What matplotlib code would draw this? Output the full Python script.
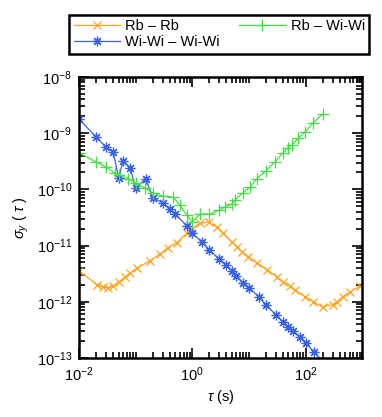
import numpy as np
import matplotlib
matplotlib.use('Agg')
import matplotlib.pyplot as plt
from matplotlib.ticker import LogLocator, NullFormatter

plt.rcParams['font.family'] = ['Liberation Sans', 'DejaVu Sans']
plt.rcParams['mathtext.fontset'] = 'custom'
plt.rcParams['mathtext.rm'] = 'Liberation Sans'
plt.rcParams['mathtext.it'] = 'Liberation Sans:italic'
plt.rcParams['font.size'] = 10.5

# Rb - Rb
tau_rr = [0.01, 0.021, 0.026, 0.033, 0.04, 0.051, 0.065, 0.08, 0.106, 0.18, 0.27, 0.37,
          0.53, 0.8, 1.0, 1.37, 2.0, 2.7, 3.5, 5.0, 6.2, 7.6, 9.7, 13.9, 21, 31, 40, 53,
          66, 98, 136, 200, 300, 360, 460, 600, 920]
adev_rr = [-11.45, -11.70, -11.74, -11.75, -11.72, -11.65, -11.56, -11.49, -11.40, -11.27,
           -11.15, -11.04, -10.95, -10.78, -10.70, -10.60, -10.58, -10.67, -10.78, -10.94,
           -11.02, -11.11, -11.20, -11.31, -11.43, -11.56, -11.65, -11.72, -11.79, -11.91,
           -12.00, -12.09, -12.05, -12.00, -11.91, -11.83, -11.72]

# Rb - Wi-Wi
tau_rw = [0.01, 0.02, 0.03, 0.043, 0.05, 0.074, 0.1, 0.147, 0.2, 0.3, 0.46, 0.6, 0.8, 1.0,
          1.37, 2.0, 3.0, 3.8, 5.0, 5.6, 7.9, 10.5, 13.9, 20, 29, 40, 49, 58, 74, 98, 136, 200]
adev_rw = [-9.35, -9.51, -9.60, -9.71, -9.74, -9.81, -9.89, -9.98, -10.06, -10.12, -10.14,
           -10.28, -10.46, -10.58, -10.44, -10.44, -10.37, -10.31, -10.26, -10.19, -10.06,
           -9.96, -9.81, -9.67, -9.51, -9.35, -9.26, -9.21, -9.09, -8.98, -8.82, -8.66]

# Wi-Wi - Wi-Wi
tau_ww = [0.01, 0.02, 0.03, 0.04, 0.05, 0.06, 0.08, 0.1, 0.15, 0.2, 0.3, 0.4, 0.5, 0.8, 1,
          1.5, 2, 3, 4, 5, 6, 8, 10, 15, 20, 30, 40, 50, 60, 80, 100, 140, 200]
adev_ww = [-8.75, -9.07, -9.25, -9.33, -9.80, -9.49, -9.62, -9.98, -9.81, -10.15, -10.24,
           -10.35, -10.44, -10.65, -10.78, -10.94, -11.08, -11.24, -11.35, -11.45, -11.54,
           -11.67, -11.75, -11.91, -12.06, -12.23, -12.36, -12.45, -12.52, -12.63, -12.73,
           -12.89, -13.05]

fig = plt.figure(figsize=(3.82, 4.17), dpi=100)
ax = fig.add_axes([0.207, 0.1415, 0.741, 0.674])

ax.loglog(tau_rr, 10.0 ** np.array(adev_rr), '-x', color='#FFA31A', lw=0.9, ms=6,
          mew=0.9, label='Rb – Rb')
ax.loglog(tau_ww, 10.0 ** np.array(adev_ww), '-', marker=(8, 2, 0), color='#3A62E8',
          lw=0.9, ms=7, mew=0.9, label='Wi-Wi – Wi-Wi')
ax.loglog(tau_rw, 10.0 ** np.array(adev_rw), '-+', color='#40E040', lw=0.9, ms=8,
          mew=0.9, label='Rb – Wi-Wi')

ax.set_xlim(1e-2, 1e3)
ax.set_ylim(1e-13, 1e-8)
ax.set_xticks([1e-2, 1e0, 1e2])
ax.set_xticks([1e-1, 1e1, 1e3] + [s * 10.0 ** e for e in range(-2, 3) for s in range(2, 10)],
              minor=True)
ax.xaxis.set_minor_formatter(NullFormatter())
ax.yaxis.set_minor_locator(LogLocator(base=10, subs=np.arange(2, 10), numticks=20))
ax.yaxis.set_minor_formatter(NullFormatter())

ax.tick_params(which='both', direction='in', top=True, right=True, width=1.2)
ax.tick_params(which='major', length=7, pad=5)
ax.tick_params(which='minor', length=4)
for s in ax.spines.values():
    s.set_linewidth(1.8)

ax.set_xlabel(r'$\it{\tau}$ (s)', labelpad=3)
ax.set_ylabel(r'$\it{\sigma_y}$ ( $\it{\tau}$ )', labelpad=4)

leg = ax.legend(loc='lower center', bbox_to_anchor=(0.495, 1.083), ncol=2,
                fancybox=False, edgecolor='black', framealpha=1, handlelength=3.2,
                columnspacing=1.3, borderpad=0.3, labelspacing=0.15, handletextpad=0.35,
                borderaxespad=0)
leg.get_frame().set_linewidth(1.8)

plt.savefig('out.png', dpi=100)
